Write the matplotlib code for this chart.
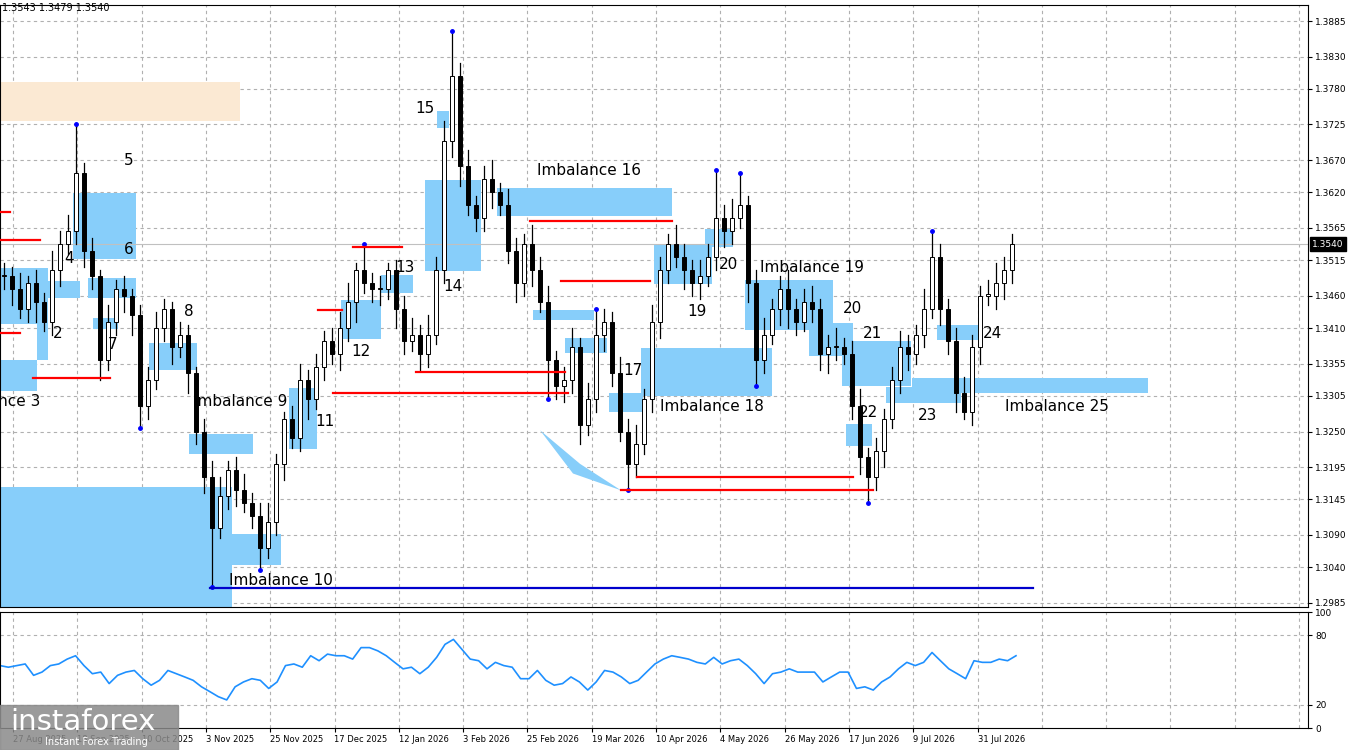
import matplotlib
matplotlib.use("Agg")
import matplotlib.pyplot as plt
from matplotlib.patches import Rectangle, Polygon
import numpy as np

closes = [1.3490,1.3470,1.3440,1.3480,1.3450,1.3420,1.3500,1.3540,1.3560,1.3650,
          1.3530,1.3490,1.3360,1.3420,1.3470,1.3460,1.3430,1.3290,1.3330,1.3410,
          1.3440,1.3380,1.3400,1.3340,1.3250,1.3180,1.3100,1.3150,1.3190,1.3160,
          1.3140,1.3120,1.3070,1.3110,1.3200,1.3270,1.3240,1.3330,1.3300,1.3350,
          1.3390,1.3370,1.3410,1.3450,1.3500,1.3480,1.3470,1.3470,1.3500,1.3440,
          1.3390,1.3400,1.3370,1.3400,1.3500,1.3700,1.3800,1.3660,1.3600,1.3580,
          1.3640,1.3620,1.3600,1.3530,1.3480,1.3540,1.3500,1.3450,1.3360,1.3320,
          1.3330,1.3380,1.3260,1.3300,1.3400,1.3420,1.3340,1.3250,1.3200,1.3230,
          1.3300,1.3420,1.3500,1.3540,1.3520,1.3500,1.3480,1.3490,1.3520,1.3580,
          1.3560,1.3580,1.3600,1.3480,1.3360,1.3400,1.3440,1.3470,1.3440,1.3420,
          1.3450,1.3440,1.3370,1.3380,1.3380,1.3370,1.3290,1.3210,1.3180,1.3220,
          1.3270,1.3330,1.3380,1.3370,1.3400,1.3440,1.3520,1.3440,1.3390,1.3310,
          1.3280,1.3380,1.3460,1.3460,1.3480,1.3500,1.3540]
wick_up = [20,15,25,10,20,15,30,20,25,75, 15,20,10,25,15,20,10,15,20,25,
           15,10,20,15,10,20,25,30,15,20, 25,15,20,30,15,10,20,25,15,20,
           15,20,25,30,10,40,15,20,10,15, 20,25,15,30,20,30,70,20,25,15,
           20,30,15,25,20,15,30,20,25,15, 20,30,15,25,40,20,15,25,20,30,
           15,25,20,15,30,20,15,25,20,75, 20,30,50,15,20,25,15,20,30,15,
           20,25,15,20,30,15,20,25,15,20, 15,20,25,20,15,30,40,20,15,20,
           25,20,15,25,30,20,15]
wick_dn = [20,25,15,20,30,15,20,25,15,20, 25,20,30,15,20,25,30,35,20,15,
           20,25,15,30,20,25,90,15,20,25, 15,20,35,15,20,25,15,20,30,15,
           20,15,25,20,30,15,20,25,15,30, 20,15,25,20,15,20,25,30,15,20,
           20,25,15,20,30,20,25,15,60,20, 25,20,30,15,20,25,20,15,40,20,
           15,20,25,20,15,30,20,25,15,20, 25,20,15,30,40,20,15,25,30,20,
           15,20,25,30,20,15,20,25,40,20, 25,15,20,25,15,20,15,25,20,30,
           10,20,25,15,20,25,20]
rsi = [53.8,52.4,53.8,55.2,45.4,48.2,53.8,55.2,59.4,62.3,53.8,46.8,48.2,38.3,45.4,48.2,49.6,42.5,36.9,41.1,
       49.6,46.8,44.0,41.1,35.5,31.3,27.0,24.2,35.5,39.7,42.5,41.1,34.1,39.7,53.8,55.2,52.4,62.3,58.0,63.7,
       62.3,62.3,59.4,69.3,69.3,66.5,62.3,56.6,51.0,52.4,46.8,52.4,60.9,72.1,76.4,67.9,59.4,58.0,51.0,56.6,
       53.8,52.4,42.5,42.5,49.6,41.1,36.9,38.3,44.0,39.7,32.7,39.7,49.6,48.2,44.0,38.3,41.1,48.2,55.2,59.4,
       62.3,60.9,59.4,56.6,55.2,60.9,55.2,58.0,59.4,53.8,46.8,38.3,46.8,48.2,51.0,48.2,48.2,48.2,39.7,44.0,
       48.2,48.2,34.1,35.5,32.7,39.7,44.0,51.0,56.6,53.8,56.6,65.1,58.0,51.0,46.8,42.5,58.0,56.6,56.6,59.4,
       58.0,62.3]
price_ticks = [1.3885,1.3830,1.3780,1.3725,1.3670,1.3620,1.3565,1.3515,1.3460,1.3410,1.3355,
               1.3305,1.3250,1.3195,1.3145,1.3090,1.3040,1.2985]
date_labels = ["27 Aug 2025","18 Sep 2025","10 Oct 2025","3 Nov 2025","25 Nov 2025","17 Dec 2025",
               "12 Jan 2026","3 Feb 2026","25 Feb 2026","19 Mar 2026","10 Apr 2026","4 May 2026",
               "26 May 2026","17 Jun 2026","9 Jul 2026","31 Jul 2026"]
zones = [(0,48,1.3416,1.3503),(37,48,1.3361,1.3416),(0,37,1.3313,1.3361),(48,80,1.3457,1.3483),
         (73,136,1.3517,1.3619),(88,136,1.3457,1.3487),(93,118,1.3409,1.3426),(149,197,1.3345,1.3387),
         (189,253,1.3215,1.3246),(0,232,1.2978,1.3164),(232,281,1.3043,1.3091),(289,317,1.3223,1.3317),
         (341,381,1.3393,1.3453),(381,413,1.3464,1.3492),(425,481,1.3498,1.3639),(437,449,1.3719,1.3746),
         (497,672,1.3583,1.3627),(533,594,1.3422,1.3438),(565,607,1.3371,1.3395),(609,643,1.3280,1.3310),
         (641,772,1.3305,1.3379),(654,712,1.3478,1.3538),(705,733,1.3535,1.3563),(745,833,1.3407,1.3484),
         (809,853,1.3367,1.3418),(842,911,1.3320,1.3390),(846,872,1.3228,1.3262),(886,961,1.3294,1.3319),
         (912,1148,1.3310,1.3333),(937,980,1.3392,1.3415)]
peach_zone = (0,240,1.3730,1.3790)
red_levels = [(0,10,1.3590),(0,40,1.3546),(0,20,1.3402),(33,110,1.3333),(333,568,1.3310),
              (416,565,1.3342),(353,402,1.3535),(318,342,1.3438),(530,672,1.3576),(561,650,1.3483),
              (637,853,1.3180),(621,873,1.3159)]
blue_level = (210,1033,1.3008)
labels = [("5",129,1.3670),("6",129,1.3532),("4",69,1.3518),("2",58,1.3402),("7",113,1.3385),
          ("8",189,1.3436),("Imbalance 9",240,1.3297),("11",325,1.3266),("12",361,1.3373),
          ("13",405,1.3503),("14",453,1.3475),("15",425,1.3749),("Imbalance 10",281,1.3020),
          ("Imbalance 16",589,1.3653),("17",633,1.3344),("19",697,1.3436),("20",728,1.3508),
          ("Imbalance 19",812,1.3503),("20",853,1.3441),("21",872,1.3402),("Imbalance 18",712,1.3289),
          ("22",869,1.3280),("23",928,1.3274),("24",992,1.3401),("Imbalance 25",1057,1.3289)]

W, H = 1350, 750
fig = plt.figure(figsize=(13.5, 7.5), dpi=100)
fig.patch.set_facecolor("white")
ax = fig.add_axes([0, 1-607/H, 1308/W, 602/H])
ax2 = fig.add_axes([0, 1-728/H, 1308/W, 116/H])
XMAX = 1308
grid_x = [13 + 64.3*k for k in range(21)]
for a in (ax, ax2):
    a.set_xlim(0, XMAX)
    for s in a.spines.values():
        s.set_color("black")
    for g in grid_x:
        a.axvline(g, color="#b0b0b0", ls=(0,(3,3)), lw=0.8, zorder=0)

ax.set_ylim(1.29785, 1.39098)
for p in price_ticks:
    ax.axhline(p, color="#b0b0b0", ls=(0,(3,3)), lw=0.8, zorder=0)
ax.yaxis.tick_right()
ax.set_yticks(price_ticks)
ax.set_yticklabels([f"{p:.4f}" for p in price_ticks], fontsize=6.5)
ax.tick_params(axis="y", length=3, pad=2)
ax.set_xticks([])

x0, x1, lo, hi = peach_zone
ax.add_patch(Rectangle((x0, lo), x1-x0, hi-lo, color="#fbe9d3", lw=0, zorder=1))
for x0, x1, lo, hi in zones:
    ax.add_patch(Rectangle((x0, lo), x1-x0, hi-lo, color="#87cefa", lw=0, zorder=1))
ax.add_patch(Polygon([(540,1.3252),(573,1.3185),(621,1.3159),(580,1.3200)], color="#87cefa", lw=0, zorder=1))

n = len(closes)
xs = 4 + 8*np.arange(n)
opens = [closes[0]] + closes[:-1]
for i in range(n):
    o, c = opens[i], closes[i]
    h = max(o, c) + wick_up[i]*1e-4
    l = min(o, c) - wick_dn[i]*1e-4
    ax.plot([xs[i], xs[i]], [l, h], color="black", lw=0.9, zorder=3)
    fc = "white" if c >= o else "black"
    b = max(abs(c-o), 0.0002)
    ax.add_patch(Rectangle((xs[i]-2, min(o, c)), 4, b, facecolor=fc, edgecolor="black", lw=0.7, zorder=4))
    if wick_up[i] >= 40:
        ax.plot(xs[i], h, "o", color="#0000ff", ms=2.5, zorder=5)
    if wick_dn[i] >= 35:
        ax.plot(xs[i], l, "o", color="#0000ff", ms=2.5, zorder=5)

for x0, x1, p in red_levels:
    ax.plot([x0, x1], [p, p], color="red", lw=1.6, zorder=5)
ax.plot([blue_level[0], blue_level[1]], [blue_level[2]]*2, color="#0000cc", lw=1.6, zorder=5)

cur = closes[-1]
ax.axhline(cur, color="#c0c0c0", lw=0.8, zorder=2)
ax.text(1.003, cur, f"{cur:.4f}", transform=ax.get_yaxis_transform(), fontsize=6.5, color="white",
        va="center", ha="left", bbox=dict(facecolor="black", edgecolor="black", pad=1.5), zorder=10)

for t, x, y in labels:
    ax.text(x, y, t, fontsize=11, ha="center", va="center", color="black", zorder=6)
ax.text(40, 1.3297, "Imbalance 3", fontsize=11, ha="right", va="center", zorder=6)
ax.text(2, 1.3905, "1.3543 1.3479 1.3540", fontsize=7, va="center", ha="left")

xr = np.linspace(0, 1016, len(rsi))
ax2.plot(xr, rsi, color="#1e90ff", lw=1.2)
ax2.set_ylim(0, 100)
for v in (80, 20):
    ax2.axhline(v, color="#b0b0b0", ls=(0,(3,3)), lw=0.8, zorder=0)
ax2.yaxis.tick_right()
ax2.set_yticks([0, 20, 80, 100])
ax2.set_yticklabels(["0", "20", "80", "100"], fontsize=6.5)
ax2.tick_params(axis="y", length=3, pad=2)
ax2.set_xticks(grid_x[:len(date_labels)])
ax2.set_xticklabels(date_labels, fontsize=6, ha="left")
ax2.tick_params(axis="x", length=3, pad=2)

fig.patches.append(Rectangle((0, 0), 178/W, 45/H, transform=fig.transFigure, color="#8a8a8a", alpha=0.85, zorder=20))
fig.text(10/W, 1-722/H, "instaforex", fontsize=21, color="white", va="center", ha="left", zorder=21)
fig.text(45/W, 1-742/H, "Instant Forex Trading", fontsize=7, color="white", va="center", ha="left", zorder=21)

fig.savefig("out.png", dpi=100)
